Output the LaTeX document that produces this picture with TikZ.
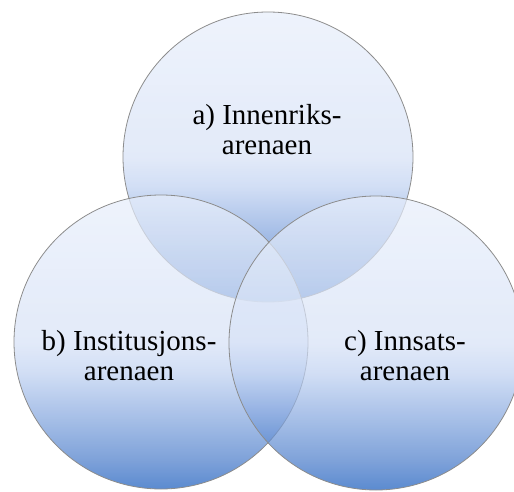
\documentclass[tikz,border=0pt]{standalone}
\usepackage{fontspec}
\setmainfont{Liberation Serif}
\definecolor{arenaBot}{HTML}{1559BC}
\definecolor{arenaLow}{HTML}{487AC9}
\definecolor{arenaMid}{HTML}{84A6DE}
\definecolor{arenaPale}{HTML}{BFD1F1}
\definecolor{arenaLight}{HTML}{D6E1F6}
\definecolor{arenaTop}{HTML}{E7EEFB}
\pgfdeclareverticalshading{arenafade}{100bp}{color(0bp)=(arenaBot); color(25bp)=(arenaBot); color(30bp)=(arenaLow); color(37.5bp)=(arenaMid); color(45bp)=(arenaPale); color(50bp)=(arenaLight); color(75bp)=(arenaTop); color(100bp)=(arenaTop)}
\tikzset{
    arenacircle/.style={circle, minimum size=294pt, inner sep=0pt, shade, shading=arenafade, fill opacity=0.7, draw=gray!90, line width=0.8pt},
    arenalabel/.style={align=center, anchor=base, font=\fontsize{29}{30}\selectfont}
}
\begin{document}
\begin{tikzpicture}[x=1pt, y=-1pt]
    \useasboundingbox (0, 0) rectangle (514, 492);

    % Circles
    \node[arenacircle, minimum size=290pt] (inner) at (268, 157) {};
    \node[arenacircle] (inst) at (161, 342) {};
    \node[arenacircle] (inns) at (376, 343) {};

    % Labels
    \node[arenalabel] (innerlabel) at (267, 154) {a) Innenriks-\\arenaen};
    \node[arenalabel] (instlabel) at (129, 380) {b) Institusjons-\\arenaen};
    \node[arenalabel] (innslabel) at (405, 380) {c) Innsats-\\arenaen};

\end{tikzpicture}
\end{document}
